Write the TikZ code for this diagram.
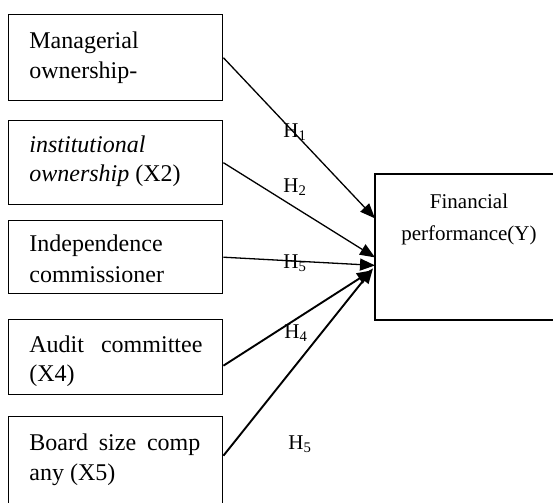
\documentclass[tikz,border=0pt]{standalone}
\usepackage{fontspec}
\setmainfont{Liberation Serif}
\usetikzlibrary{arrows.meta,calc}
\begin{document}
\begin{tikzpicture}[x=0.5pt,y=-0.5pt,
 box/.style={draw,line width=0.7pt,inner sep=0,anchor=north west,minimum width=107pt},
 txt/.style={anchor=base west,inner sep=0,font=\fontsize{12}{14}\selectfont},
 ytxt/.style={anchor=base,inner sep=0,font=\fontsize{10.5}{12}\selectfont},
 lab/.style={anchor=base west,inner sep=0,font=\fontsize{10.5}{12}\selectfont},
 arr/.style={line width=0.65pt,-{Triangle[length=7.5pt,width=6pt]}},
 arrb/.style={line width=0.95pt,-{Triangle[length=7.5pt,width=6pt]}},
]
\useasboundingbox (0,0) rectangle (553,503);
\clip (0,0) rectangle (553,503);

% left boxes
\node[box,minimum height=43pt] (b1) at (8,14) {};
\node[box,minimum height=42pt] (b2) at (8,120) {};
\node[box,minimum height=36.5pt] (b3) at (8,220) {};
\node[box,minimum height=37.5pt] (b4) at (8,319) {};
\node[box,minimum height=50pt] (b5) at (8,416) {};

% right box (runs past the right edge of the picture)
\node[inner sep=0,anchor=north west,minimum width=105pt,minimum height=72.5pt] (Y) at (375,174) {};
\draw[line width=0.7pt] (Y.north east) -- (Y.north west) -- (Y.south west) -- (Y.south east);

% texts
\node[txt] (t1a) at (29,48) {Managerial};
\node[txt] (t1b) at (29,78) {ownership-};
\node[txt] (t2a) at (29,153) {\textit{institutional}};
\node[txt] (t2b) at (29,182) {\textit{ownership} (X2)};
\node[txt] (t3a) at (29,251) {Independence};
\node[txt] (t3b) at (29,282) {commissioner};
\node[txt] (t4a) at (29,352) {\makebox[86.5pt][s]{Audit committee}};
\node[txt] (t4b) at (29,381) {(X4)};
\node[txt] (t5a) at (29,450) {\makebox[85.5pt][s]{Board size comp}};
\node[txt] (t5b) at (29,480) {any (X5)};

\node[ytxt] (ya) at (469,208) {Financial};
\node[ytxt] (yb) at (469,240) {performance(Y)};

% connector end points
\coordinate (s4) at ($(b4.east)+(0,8.5)$);
\coordinate (s5) at ($(b4.east)+(0,98.5)$);
\coordinate (e1) at ($(Y.west)+(0,-28.5)$);
\coordinate (e2) at ($(Y.west)+(0,10.5)$);
\coordinate (e3) at ($(Y.west)+(0,18.5)$);
\coordinate (e4) at ($(Y.west)+(-3,23.5)$);
\coordinate (e5) at ($(Y.west)+(-2,21.5)$);

\draw[arr] (b1.east) -- (e1);
\draw[arr] (b2.east) -- (e2);
\draw[arr] (b3.east) -- (e3);
\draw[arrb] (s4) -- (e4);
\draw[arrb] (s5) -- (e5);

% labels
\node[lab] (h1) at (283,137) {H\textsubscript{1}};
\node[lab] (h2) at (283,192) {H\textsubscript{2}};
\node[lab] (h3) at (283,268) {H\textsubscript{5}};
\node[lab] (h4) at (284,338) {H\textsubscript{4}};
\node[lab] (h5) at (288,449) {H\textsubscript{5}};
\end{tikzpicture}
\end{document}
